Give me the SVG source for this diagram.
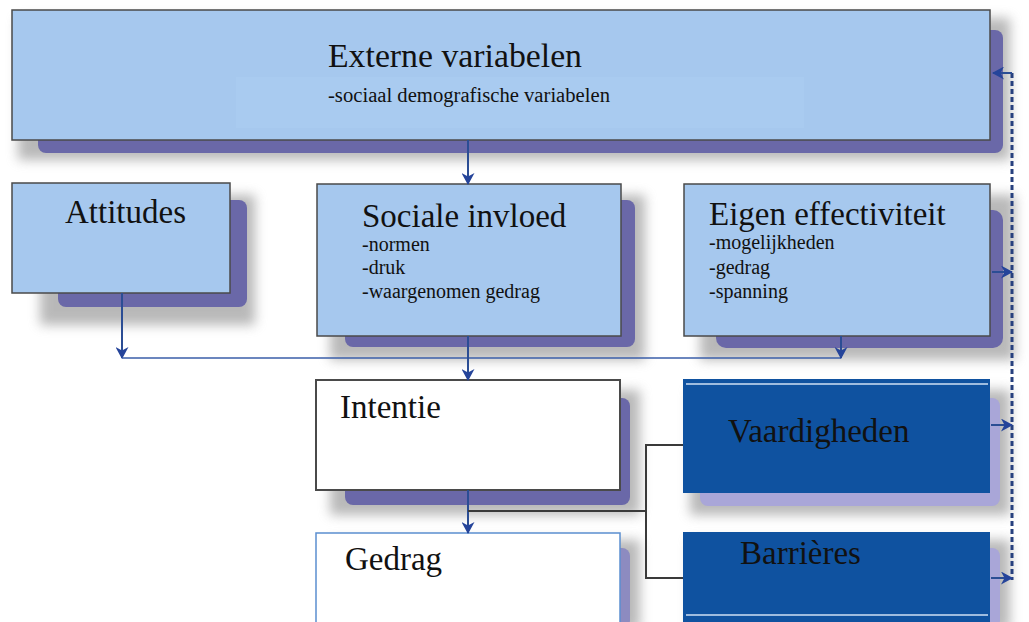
<svg xmlns="http://www.w3.org/2000/svg" width="1029" height="622" viewBox="0 0 1029 622">
<defs>
<style>
.t{font-family:"Liberation Serif","Times New Roman",serif;font-size:33px;fill:#111}
.s{font-family:"Liberation Serif","Times New Roman",serif;font-size:20px;fill:#111}
.lb{fill:#a6c8ee;stroke:#4a4a4a;stroke-width:1.5}
.db{fill:#0f52a0}
.wb{fill:#ffffff;stroke:#4a4a4a;stroke-width:2}
.ps{fill:#6a68a8}
.halo{fill:#8a8a8a;opacity:0.6;filter:url(#blur)}
.ah{stroke:#2b4d94;stroke-width:2;fill:none;marker-end:url(#arr)}
.gl{stroke:#3a3a3a;stroke-width:2;fill:none}
.dash{stroke:#27407e;stroke-width:3;stroke-dasharray:5 3;fill:none}
</style>
<filter id="blur" x="-10%" y="-30%" width="120%" height="160%"><feGaussianBlur stdDeviation="6"/></filter>
<marker id="arr" markerUnits="userSpaceOnUse" markerWidth="13" markerHeight="13" refX="11" refY="6.5" orient="auto">
<path d="M0,0 L12,6.5 L0,13 L3.5,6.5 z" fill="#25449a"/>
</marker>
</defs>
<rect width="1029" height="622" fill="#ffffff"/>

<g id="externe">
<rect class="halo" x="18" y="18" width="992" height="142"/>
<rect class="ps" x="38" y="30" width="965" height="123" rx="8"/>
<rect class="lb" x="12" y="10" width="978" height="130"/>
<rect x="236" y="77" width="568" height="51" fill="#a9cbf0"/>
<text class="t" x="328" y="67" textLength="254" lengthAdjust="spacingAndGlyphs">Externe variabelen</text>
<text class="s" x="328" y="102" font-size="18" textLength="282" lengthAdjust="spacingAndGlyphs">-sociaal demografische variabelen</text>
</g>

<g id="attitudes">
<rect class="halo" x="40" y="195" width="215" height="130"/>
<rect class="ps" x="58" y="200" width="189" height="107" rx="8"/>
<rect class="lb" x="12" y="183" width="218" height="110"/>
<text class="t" x="65" y="223">Attitudes</text>
</g>

<g id="sociale">
<rect class="halo" x="330" y="195" width="315" height="165"/>
<rect class="ps" x="345" y="200" width="290" height="147" rx="8"/>
<rect class="lb" x="317" y="184" width="304" height="152"/>
<text class="t" x="362" y="227">Sociale invloed</text>
<text class="s" x="362" y="251">-normen</text>
<text class="s" x="362" y="274">-druk</text>
<text class="s" x="362" y="298">-waargenomen gedrag</text>
</g>

<g id="eigen">
<rect class="halo" x="700" y="195" width="315" height="165"/>
<rect class="ps" x="716" y="210" width="287" height="138" rx="10"/>
<rect class="lb" x="684" y="184" width="306" height="152"/>
<text class="t" x="709" y="225">Eigen effectiviteit</text>
<text class="s" x="709" y="249">-mogelijkheden</text>
<text class="s" x="709" y="274">-gedrag</text>
<text class="s" x="709" y="298">-spanning</text>
</g>

<g id="intentie">
<rect class="halo" x="330" y="390" width="310" height="125"/>
<rect class="ps" x="345" y="398" width="285" height="107" rx="8"/>
<rect class="wb" x="316" y="380" width="304" height="110"/>
<text class="t" x="340" y="418">Intentie</text>
</g>

<g id="vaardigheden">
<rect class="halo" x="690" y="390" width="320" height="125"/>
<rect x="700" y="398" width="300" height="108" rx="8" fill="#a9a6d8"/>
<rect class="db" x="683" y="379" width="307" height="114"/>
<line x1="686" y1="384" x2="988" y2="384" stroke="#cfe0f5" stroke-width="1.5"/>
<text class="t" x="728" y="442">Vaardigheden</text>
</g>

<g id="gedrag">
<rect class="halo" x="330" y="540" width="310" height="90"/>
<rect x="345" y="548" width="285" height="80" rx="8" fill="#8d8bc0"/>
<rect x="316" y="533" width="304" height="95" fill="#ffffff" stroke="#5b8fd0" stroke-width="1.5"/>
<text class="t" x="345" y="570">Gedrag</text>
</g>

<g id="barrieres">
<rect class="halo" x="690" y="540" width="320" height="90"/>
<rect x="700" y="548" width="300" height="80" rx="8" fill="#a9a6d8"/>
<rect class="db" x="683" y="532" width="307" height="95"/>
<line x1="686" y1="615" x2="988" y2="615" stroke="#cfe0f5" stroke-width="1.5"/>
<text class="t" x="740" y="564">Barrières</text>
</g>

<g id="connectors">
<line class="ah" x1="468" y1="140" x2="468" y2="184"/>
<line class="ah" x1="122" y1="293" x2="122" y2="358"/>
<line x1="122" y1="358" x2="841" y2="358" stroke="#3a5ea8" stroke-width="1.5"/>
<line class="ah" x1="841" y1="336" x2="841" y2="358"/>
<line class="ah" x1="468" y1="336" x2="468" y2="380"/>
<line class="ah" x1="468" y1="490" x2="468" y2="533"/>
<polyline class="gl" points="468,511 646,511"/>
<polyline class="gl" points="683,445 646,445 646,578 683,578"/>
<line class="dash" x1="1012" y1="73" x2="1012" y2="580"/>
<line class="ah" x1="1012" y1="73" x2="993" y2="73"/>
<line class="ah" x1="992" y1="272" x2="1012" y2="272"/>
<line class="ah" x1="991" y1="425" x2="1012" y2="425"/>
<line class="ah" x1="991" y1="578" x2="1012" y2="578"/>
</g>
</svg>
